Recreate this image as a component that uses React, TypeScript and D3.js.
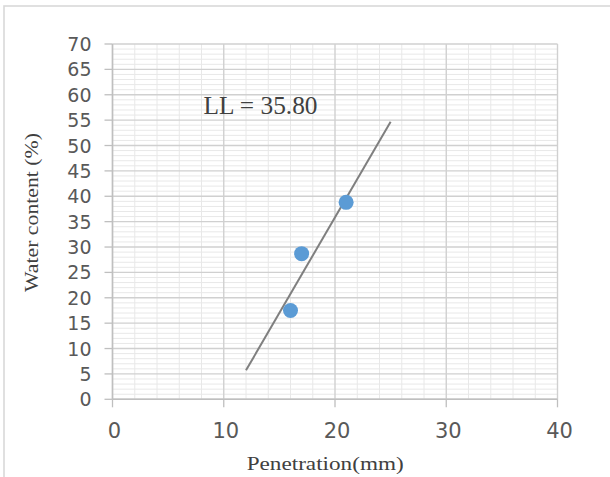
import React from "react";
import * as d3 from "d3";

const penetration = [16, 17, 21];
const waterContent = [17.5, 28.7, 38.8];
const trendX = [12, 25];
const trendY = [5.7, 54.7];
const xTicks = [0, 10, 20, 30, 40];
const yTicks = [0, 5, 10, 15, 20, 25, 30, 35, 40, 45, 50, 55, 60, 65, 70];
const annotation = "LL = 35.80";
const xTitle = "Penetration(mm)";
const yTitle = "Water content (%)";

export default function App() {
  const W = 610, H = 477;
  const x = d3.scaleLinear().domain([0, 40]).range([112.5, 557.5]);
  const y = d3.scaleLinear().domain([0, 70]).range([399.3, 44]);
  const minorX = d3.range(0, 40.001, 2).filter((v) => v % 10 !== 0);
  const minorY = d3.range(0, 70.001, 1).filter((v) => v % 5 !== 0);
  const line = d3.line<number>().x((d, i) => x(trendX[i])).y((d, i) => y(trendY[i]));
  const [x0, x1] = x.range();
  const [y0, y1] = y.range();
  return (
    <svg width={W} height={H} style={{ position: "absolute", left: 0, top: 0, background: "#fff" }}>
      <rect x={4} y={6} width={W + 10} height={H + 10} fill="#fff" stroke="#d9d9d9" strokeWidth={1.6} />
      {minorY.map((v) => (
        <line key={"my" + v} x1={x0} x2={x1} y1={y(v)} y2={y(v)} stroke="#e8e8e8" strokeWidth={1} />
      ))}
      {minorX.map((v) => (
        <line key={"mx" + v} x1={x(v)} x2={x(v)} y1={y0} y2={y1} stroke="#e8e8e8" strokeWidth={1} />
      ))}
      {yTicks.map((v) => (
        <line key={"gy" + v} x1={x0} x2={x1} y1={y(v)} y2={y(v)} stroke="#d0d0d0" strokeWidth={1.4} />
      ))}
      {xTicks.map((v) => (
        <line key={"gx" + v} x1={x(v)} x2={x(v)} y1={y0} y2={y1} stroke="#d0d0d0" strokeWidth={1.4} />
      ))}
      <line x1={x0} x2={x0} y1={y0} y2={y1} stroke="#bfbfbf" strokeWidth={1.5} />
      <line x1={x0} x2={x1} y1={y0} y2={y0} stroke="#bfbfbf" strokeWidth={1.5} />
      {yTicks.map((v) => (
        <g key={"ty" + v}>
          <line x1={x0 - 8} x2={x0} y1={y(v)} y2={y(v)} stroke="#bfbfbf" strokeWidth={1.3} />
          <text x={91.5} y={y(v)} dy="0.37em" textAnchor="end" fontFamily="DejaVu Sans" fontSize={19} fill="#595959">
            {v}
          </text>
        </g>
      ))}
      {xTicks.map((v) => (
        <g key={"tx" + v}>
          <line x1={x(v)} x2={x(v)} y1={y0} y2={y0 + 8} stroke="#bfbfbf" strokeWidth={1.3} />
          <text x={x(v) + 2} y={438.3} textAnchor="middle" fontFamily="DejaVu Sans" fontSize={21} fill="#595959">
            {v}
          </text>
        </g>
      ))}
      <path d={line(trendX) || ""} fill="none" stroke="#7f7f7f" strokeWidth={2} />
      {penetration.map((p, i) => (
        <circle key={"pt" + i} cx={x(p)} cy={y(waterContent[i])} r={7.5} fill="#5b9bd5" />
      ))}
      <text x={203.5} y={114.3} fontFamily="Liberation Serif" fontSize={25} fill="#404040" textLength={114} lengthAdjust="spacingAndGlyphs">
        {annotation}
      </text>
      <text x={246.7} y={470} fontFamily="Liberation Serif" fontSize={19.5} fill="#404040" textLength={157} lengthAdjust="spacingAndGlyphs">
        {xTitle}
      </text>
      <text
        transform={`translate(38, 212.5) rotate(-90)`}
        textAnchor="middle"
        fontFamily="Liberation Serif"
        fontSize={19.5}
        fill="#404040"
        textLength={159}
        lengthAdjust="spacingAndGlyphs"
      >
        {yTitle}
      </text>
    </svg>
  );
}
